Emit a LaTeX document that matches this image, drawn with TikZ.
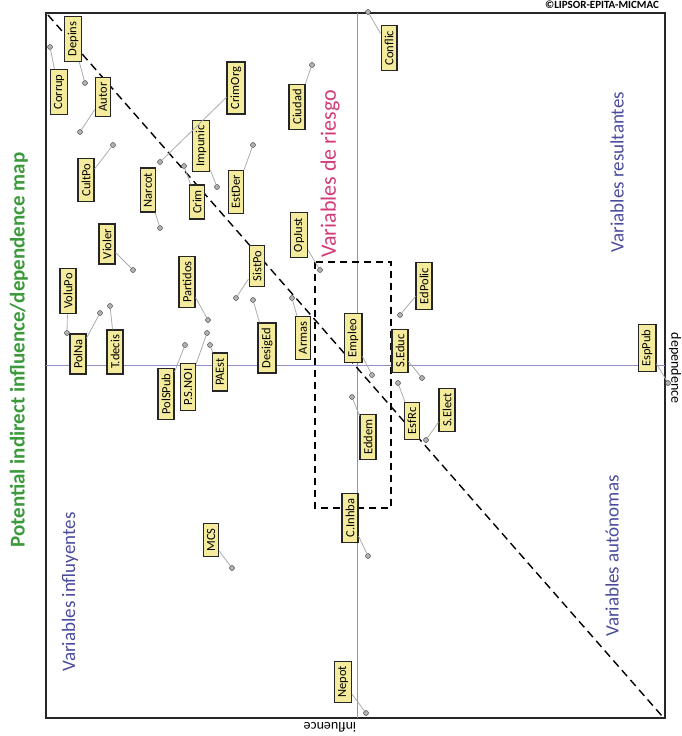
\documentclass[tikz,border=0pt]{standalone}
\usepackage{fontspec}
\setmainfont{Carlito}
\usetikzlibrary{positioning}

\definecolor{mapgreen}{HTML}{3C9A3C}
\definecolor{quadblue}{HTML}{4B4B9E}
\definecolor{riskred}{HTML}{D23C78}
\definecolor{boxfill}{HTML}{F4EC9C}
\definecolor{axisline}{HTML}{9090C8}

\tikzset{
  var/.style={draw=black!85, line width=1.3pt, fill=boxfill, rotate=90,
    font=\fontsize{12.5}{12.5}\selectfont, inner xsep=5pt, inner ysep=3.5pt},
  varpt/.style={circle, draw=black!80, fill=gray!60, inner sep=0pt, minimum size=5pt},
  lead/.style={gray!65, line width=0.8pt},
  quad/.style={rotate=90, font=\fontsize{19}{19}\selectfont, text=quadblue}
}

\begin{document}
\begin{tikzpicture}[x=1pt,y=-1pt]
\useasboundingbox (0,0) rectangle (681,736);

% frame and axes
\draw[line width=1.3pt, black!85] (46,13) rectangle (665,718);
\draw[axisline, line width=0.6pt] (357,13) -- (357,718);
\draw[axisline, line width=0.6pt] (46,365) -- (665,365);
\draw[line width=1.4pt, dash pattern=on 8pt off 5pt] (48,15) -- (662,716);
\draw[line width=1.4pt, dash pattern=on 7pt off 5pt] (315,262) rectangle (391,508);

% titles
\node[rotate=90, text=mapgreen, font=\bfseries\fontsize{21}{21}\selectfont] (title) at (19,350)
  {Potential indirect influence/dependence map};
\node[font=\bfseries\fontsize{11}{11}\selectfont] (copy) at (602,5) {\textcopyright LIPSOR-EPITA-MICMAC};
\node[rotate=180, font=\fontsize{14}{14}\selectfont] (infl) at (330,727) {influence};
\node[rotate=-90, font=\fontsize{14}{14}\selectfont] (depd) at (675,368) {dependence};

\node[quad] (qinf) at (70,592) {Variables influyentes};
\node[quad, text=riskred, font=\fontsize{22}{22}\selectfont] (qrisk) at (330,174) {Variables de riesgo};
\node[quad] (qres) at (617,172) {Variables resultantes};
\node[quad] (qaut) at (612,556) {Variables autónomas};

% variables
\node[var] (corrup)  at (59,92)   {Corrup};
\node[var] (depins)  at (73,39)   {Depins};
\node[var] (autor)   at (103,97)  {Autor};
\node[var] (crimorg) at (236,88)  {CrimOrg};
\node[var] (ciudad)  at (297,107) {Ciudad};
\node[var] (conflic) at (389,48)  {Conflic};
\node[var] (cultpo)  at (86,180)  {CultPo};
\node[var] (narcot)  at (148,190) {Narcot};
\node[var] (impunic) at (201,146) {Impunic};
\node[var] (crim)    at (197,202) {Crim};
\node[var] (estder)  at (236,192) {EstDer};
\node[var] (violer)  at (107,244) {Violer};
\node[var] (opjust)  at (299,235) {OpJust};
\node[var] (volupo)  at (68,291)  {VoluPo};
\node[var] (polna)   at (78,354)  {PolNa};
\node[var] (tdecis)  at (115,352) {T.decis};
\node[var] (partidos) at (187,282) {Partidos};
\node[var] (sistpo)  at (257,266) {SistPo};
\node[var] (armas)   at (303,338) {Armas};
\node[var] (desiged) at (267,348) {DesigEd};
\node[var] (polspub) at (166,394) {PolSPub};
\node[var] (psnoi)   at (188,387) {P.S.NOI};
\node[var] (paest)   at (220,372) {PAEst};
\node[var] (empleo)  at (353,338) {Empleo};
\node[var] (edpolic) at (424,286) {EdPolic};
\node[var] (seduc)   at (400,351) {S.Educ};
\node[var] (esfrc)   at (412,421) {EsfRc};
\node[var] (select)  at (447,410) {S.Elect};
\node[var] (eddem)   at (368,437) {Eddem};
\node[var] (esppub)  at (647,348) {EspPub};
\node[var] (cinhba)  at (350,518) {C.Inhba};
\node[var] (mcs)     at (211,540) {MCS};
\node[var] (nepot)   at (343,682) {Nepot};

% points
\node[varpt] (p-corrup)  at (50,47)   {};
\node[varpt] (p-depins)  at (85,83)   {};
\node[varpt] (p-autor)   at (80,132)  {};
\node[varpt] (p-crimorg) at (160,162) {};
\node[varpt] (p-ciudad)  at (312,65)  {};
\node[varpt] (p-conflic) at (368,12)  {};
\node[varpt] (p-cultpo)  at (113,145) {};
\node[varpt] (p-narcot)  at (160,228) {};
\node[varpt] (p-impunic) at (217,187) {};
\node[varpt] (p-crim)    at (184,166) {};
\node[varpt] (p-estder)  at (253,145) {};
\node[varpt] (p-violer)  at (133,270) {};
\node[varpt] (p-opjust)  at (320,270) {};
\node[varpt] (p-volupo)  at (67,333)  {};
\node[varpt] (p-polna)   at (100,313) {};
\node[varpt] (p-tdecis)  at (110,306) {};
\node[varpt] (p-partidos) at (208,320) {};
\node[varpt] (p-sistpo)  at (236,298) {};
\node[varpt] (p-armas)   at (292,298) {};
\node[varpt] (p-desiged) at (253,300) {};
\node[varpt] (p-polspub) at (185,345) {};
\node[varpt] (p-psnoi)   at (207,333) {};
\node[varpt] (p-paest)   at (210,345) {};
\node[varpt] (p-empleo)  at (372,375) {};
\node[varpt] (p-edpolic) at (400,315) {};
\node[varpt] (p-seduc)   at (422,378) {};
\node[varpt] (p-esfrc)   at (398,383) {};
\node[varpt] (p-select)  at (426,440) {};
\node[varpt] (p-eddem)   at (352,397) {};
\node[varpt] (p-esppub)  at (668,383) {};
\node[varpt] (p-cinhba)  at (368,556) {};
\node[varpt] (p-mcs)     at (232,568) {};
\node[varpt] (p-nepot)   at (366,713) {};

% leaders
\foreach \v in {corrup,depins,autor,crimorg,ciudad,conflic,cultpo,narcot,impunic,crim,
  estder,violer,opjust,volupo,polna,tdecis,partidos,sistpo,armas,desiged,polspub,psnoi,
  paest,empleo,edpolic,seduc,esfrc,select,eddem,esppub,cinhba,mcs,nepot}
  \draw[lead] (\v) -- (p-\v);
\end{tikzpicture}
\end{document}
